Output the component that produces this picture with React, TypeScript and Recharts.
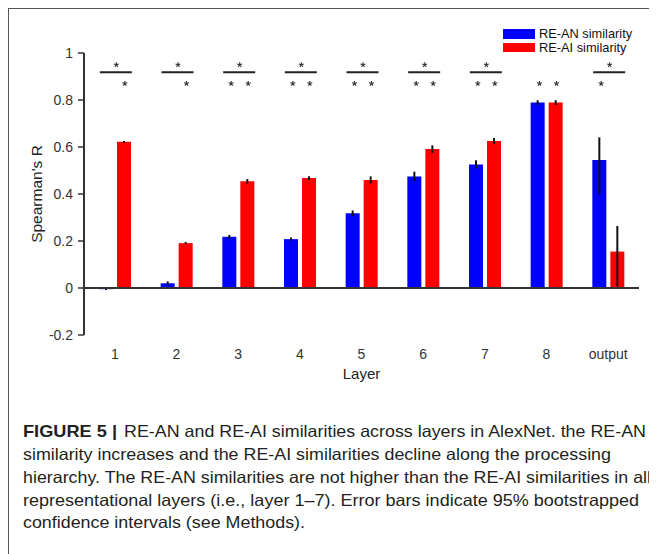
import { ComposedChart, Bar, ErrorBar, Scatter, XAxis, YAxis, ReferenceLine } from 'recharts';

const layers = ['1', '2', '3', '4', '5', '6', '7', '8', 'output'];
const reAn = [-0.005, 0.02, 0.218, 0.208, 0.318, 0.475, 0.526, 0.789, 0.545];
const reAi = [0.622, 0.191, 0.454, 0.468, 0.46, 0.591, 0.626, 0.789, 0.155];
// [below, above] error extents
const reAnErr = [[0.003, 0.003], [0.008, 0.008], [0.008, 0.008], [0.007, 0.007], [0.012, 0.012], [0.02, 0.02], [0.018, 0.018], [0.01, 0.01], [0.149, 0.096]];
const reAiErr = [[0.004, 0.004], [0.005, 0.005], [0.01, 0.01], [0.008, 0.008], [0.015, 0.015], [0.016, 0.016], [0.012, 0.012], [0.01, 0.01], [0.15, 0.109]];
// significance marks
const sigDiff = [true, true, true, true, true, true, true, false, true];
const sigAn = [false, false, true, true, true, true, true, true, true];
const sigAi = [true, true, true, true, true, true, true, true, false];
const yTicks = [-0.2, 0, 0.2, 0.4, 0.6, 0.8, 1];

const series = [
  { key: 'an', err: 'anErr', name: 'RE-AN similarity', color: '#0000FF' },
  { key: 'ai', err: 'aiErr', name: 'RE-AI similarity', color: '#FF0000' },
];

const BRACKET_Y = 0.918;
const STAR_Y = 0.87;

const data = layers.map((layer, i) => ({
  layer,
  an: reAn[i],
  ai: reAi[i],
  anErr: reAnErr[i],
  aiErr: reAiErr[i],
  bracket: sigDiff[i] ? BRACKET_Y : null,
  anStar: sigAn[i] ? STAR_Y : null,
  aiStar: sigAi[i] ? STAR_Y : null,
}));

const FONT = '"Liberation Sans", Arial, sans-serif';

// small five-armed asterisk
const Asterisk = ({ x, y }: { x: number; y: number }) => {
  const r = 2.6;
  const d = [90, 18, 162, 234, 306]
    .map((a) => {
      const rad = (a * Math.PI) / 180;
      return `M${x},${y}L${x + r * Math.cos(rad)},${y - r * Math.sin(rad)}`;
    })
    .join('');
  return <path d={d} stroke="#333" strokeWidth={1.1} fill="none" />;
};

const renderBracket = (p: any) => {
  if (p.payload?.bracket == null) return <g />;
  const { cx, cy } = p;
  return (
    <g>
      <line x1={cx - 15} x2={cx + 17} y1={cy} y2={cy} stroke="#222" strokeWidth={2} />
      <Asterisk x={cx + 1.5} y={cy - 7.5} />
    </g>
  );
};

const makeStar = (field: string, dx: number) => (p: any) => {
  if (p.payload?.[field] == null) return <g />;
  return <Asterisk x={p.cx + dx} y={p.cy} />;
};

const captionLines = [
  'similarity increases and the RE-AI similarities decline along the processing',
  'hierarchy. The RE-AN similarities are not higher than the RE-AI similarities in all',
  'representational layers (i.e., layer 1\u20137). Error bars indicate 95% bootstrapped',
  'confidence intervals (see Methods).',
];
const captionLengths = [588, 628, 616, 282];

export default function App() {
  return (
    <div
      style={{
        position: 'relative',
        width: 649,
        height: 546,
        borderLeft: '1px solid #555',
        borderTop: '1px solid #555',
        boxSizing: 'border-box',
        fontFamily: FONT,
        overflow: 'hidden',
      }}
    >
      <div style={{ position: 'absolute', left: 0, top: 0 }}>
        <ComposedChart
          width={640}
          height={400}
          data={data}
          margin={{ top: 44, right: 10, left: 0, bottom: 24 }}
          barGap={4}
          style={{ fontFamily: FONT }}
        >
          <XAxis
            dataKey="layer"
            axisLine={false}
            tickLine={false}
            tickSize={0}
            tickMargin={14}
            height={50}
            interval={0}
            tick={{ fontSize: 14, fill: '#333' }}
            label={{ value: 'Layer', position: 'insideBottom', offset: 6, fontSize: 15, fill: '#222' }}
          />
          <YAxis
            domain={[-0.2, 1]}
            ticks={yTicks}
            interval={0}
            width={75}
            axisLine={{ stroke: '#333', strokeWidth: 2 }}
            tickLine={{ stroke: '#333', strokeWidth: 1.5 }}
            tickSize={6}
            tickMargin={5}
            tick={{ fontSize: 14, fill: '#333' }}
            tickFormatter={(v: number) => String(v)}
            label={{
              value: "Spearman's R",
              angle: -90,
              position: 'insideLeft',
              offset: 27,
              fontSize: 15.5,
              fill: '#222',
              style: { textAnchor: 'middle' },
            }}
          />
          {series.map((s) => (
            <Bar key={s.key} dataKey={s.key} name={s.name} fill={s.color} barSize={14} isAnimationActive={false}>
              <ErrorBar dataKey={s.err} width={0} strokeWidth={2} stroke="#111" direction="y" isAnimationActive={false} />
            </Bar>
          ))}
          <ReferenceLine y={0} stroke="#333" strokeWidth={2} />
          <Scatter dataKey="bracket" shape={renderBracket} isAnimationActive={false} legendType="none" />
          <Scatter dataKey="anStar" shape={makeStar('anStar', -7)} isAnimationActive={false} legendType="none" />
          <Scatter dataKey="aiStar" shape={makeStar('aiStar', 10)} isAnimationActive={false} legendType="none" />
        </ComposedChart>
      </div>

      <div style={{ position: 'absolute', left: 494, top: 18, fontSize: 12.8, color: '#111' }}>
        {series.map((s) => (
          <div key={s.key} style={{ display: 'flex', alignItems: 'center', height: 13.5 }}>
            <span style={{ display: 'inline-block', width: 32, height: 9.5, background: s.color, marginRight: 4, flexShrink: 0 }} />
            <span style={{ lineHeight: '13px', whiteSpace: 'nowrap' }}>{s.name}</span>
          </div>
        ))}
      </div>

      <svg width={649} height={146} style={{ position: 'absolute', left: 0, top: 400 }}>
        <text x={14} y={28} fontSize={16.5} fontWeight="bold" fill="#231f20" fontFamily={FONT} textLength={94} lengthAdjust="spacingAndGlyphs">
          FIGURE 5 |
        </text>
        <text x={115} y={28} fontSize={16.5} fill="#231f20" fontFamily={FONT} textLength={522} lengthAdjust="spacingAndGlyphs">
          RE-AN and RE-AI similarities across layers in AlexNet. the RE-AN
        </text>
        {captionLines.map((line, i) => (
          <text
            key={i}
            x={14}
            y={51 + i * 22.8}
            fontSize={16.5}
            fill="#231f20"
            fontFamily={FONT}
            textLength={captionLengths[i]}
            lengthAdjust="spacingAndGlyphs"
          >
            {line}
          </text>
        ))}
      </svg>
    </div>
  );
}
